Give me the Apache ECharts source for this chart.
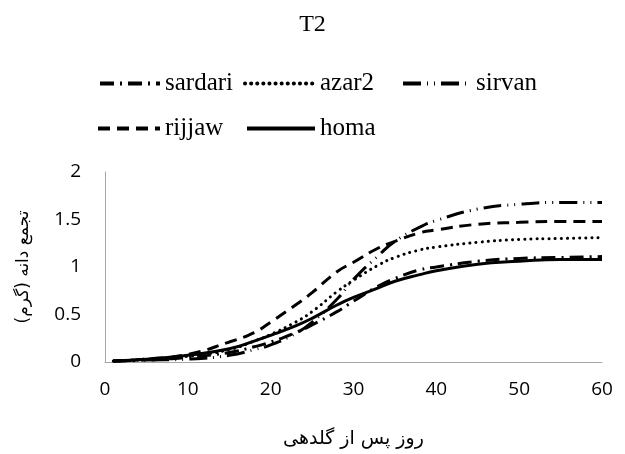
<!DOCTYPE html>
<html>
<head>
<meta charset="utf-8">
<script src="https://cdn.jsdelivr.net/npm/echarts@6/dist/echarts.min.js"></script>
<style>
  html, body { margin: 0; padding: 0; background: #fff; }
  #chart { width: 625px; height: 454px; }
</style>
</head>
<body>
<div id="chart"></div>
<script>
// روز پس از گلدهی
const days = [1, 5, 10, 15, 18, 20, 23, 25, 28, 30, 33, 35, 38, 40, 45, 50, 55, 60];

const sardari = [0.01, 0.02, 0.05, 0.10, 0.16, 0.21, 0.31, 0.39, 0.53, 0.64, 0.80, 0.88, 0.97, 1.00, 1.06, 1.09, 1.10, 1.11];
const azar2   = [0.01, 0.03, 0.06, 0.13, 0.22, 0.29, 0.42, 0.53, 0.74, 0.86, 1.02, 1.10, 1.18, 1.21, 1.26, 1.29, 1.30, 1.31];
const sirvan  = [0.01, 0.02, 0.03, 0.07, 0.13, 0.18, 0.30, 0.42, 0.66, 0.87, 1.12, 1.27, 1.42, 1.49, 1.61, 1.66, 1.68, 1.68];
const rijjaw  = [0.01, 0.03, 0.08, 0.21, 0.31, 0.42, 0.60, 0.73, 0.95, 1.05, 1.20, 1.27, 1.36, 1.39, 1.45, 1.47, 1.48, 1.48];
const homa    = [0.01, 0.03, 0.07, 0.14, 0.22, 0.28, 0.38, 0.46, 0.60, 0.68, 0.78, 0.85, 0.92, 0.96, 1.03, 1.06, 1.08, 1.08];

// name, values, dash pattern, legend position (Excel-like columns)
const seriesDefs = [
    { name: 'sardari', values: sardari, dash: [14, 6, 2, 6], cap: 'butt', left: 93, top: 66, w: 60 },
    { name: 'azar2', values: azar2, dash: [0.1, 6], cap: 'round', left: 238, top: 66, w: 70 },
    { name: 'sirvan', values: sirvan, dash: [18, 6, 1, 6, 1, 6], cap: 'butt', left: 396, top: 66, w: 68 },
    { name: 'rijjaw', values: rijjaw, dash: [12, 7], cap: 'butt', left: 91, top: 111, w: 62 },
    { name: 'homa', values: homa, dash: 'solid', cap: 'butt', left: 240, top: 111, w: 68 }
];

const chart = echarts.init(document.getElementById('chart'));

const serifFont = 'Liberation Serif, "Times New Roman", serif';

const option = {
    animation: false,
    title: {
        text: 'T2',
        left: 'center',
        top: 8,
        textStyle: { fontFamily: serifFont, fontSize: 24, fontWeight: 'normal', color: '#000' }
    },
    // one legend per item so each sits in its own column like the original
    legend: seriesDefs.map(s => ({
        data: [s.name],
        left: s.left,
        top: s.top,
        itemWidth: s.w,
        itemHeight: 14,
        itemStyle: { opacity: 0 },
        lineStyle: { color: '#000', width: 4, type: s.dash, cap: s.cap },
        textStyle: { fontFamily: serifFont, fontSize: 25, color: '#000' }
    })),
    grid: { left: 105, right: 23, top: 172, bottom: 92 },
    xAxis: {
        type: 'value',
        min: 0, max: 60, interval: 10,
        name: 'روز پس از گلدهی',
        nameLocation: 'middle',
        nameGap: 68,
        nameTextStyle: { fontFamily: 'DejaVu Sans', fontSize: 19, color: '#000' },
        axisLine: { lineStyle: { color: '#a6a6a6', width: 1 } },
        axisTick: { show: false },
        splitLine: { show: false },
        axisLabel: { margin: 18, fontFamily: 'Open Sans', fontSize: 19, color: '#000' }
    },
    yAxis: {
        type: 'value',
        min: 0, max: 2, interval: 0.5,
        name: 'تجمع دانه (گرم)',
        nameLocation: 'middle',
        nameRotate: 90,
        nameGap: 73,
        nameTextStyle: { fontFamily: 'DejaVu Sans', fontSize: 17, color: '#000' },
        axisLine: { show: true, lineStyle: { color: '#a6a6a6', width: 1 } },
        axisTick: { show: false },
        splitLine: { show: false },
        axisLabel: { margin: 24, fontFamily: 'Open Sans', fontSize: 19, color: '#000' }
    },
    series: seriesDefs.map(s => ({
        name: s.name,
        type: 'line',
        smooth: true,
        symbol: 'none',
        showSymbol: false,
        data: days.map((d, i) => [d, s.values[i]]),
        lineStyle: { color: '#000', width: 3, type: s.dash, cap: s.cap },
        itemStyle: { color: '#000' }
    }))
};

chart.setOption(option);
</script>
</body>
</html>
